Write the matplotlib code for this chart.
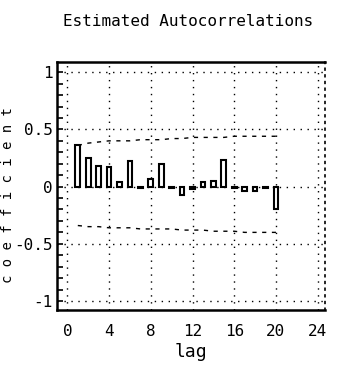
import numpy as np
import matplotlib
matplotlib.use("Agg")
import matplotlib.pyplot as plt
from matplotlib.ticker import MultipleLocator

# sample autocorrelations, lags 1..20
lags = list(range(1, 21))
acf = [0.36, 0.25, 0.18, 0.17, 0.04, 0.22, -0.01, 0.07, 0.20, -0.01,
       -0.07, -0.02, 0.04, 0.05, 0.23, -0.01, -0.04, -0.04, -0.01, -0.20]

# approximate confidence band
band_hi = [0.36, 0.38, 0.39, 0.40, 0.40, 0.40, 0.41, 0.41, 0.41, 0.42,
           0.42, 0.43, 0.43, 0.43, 0.43, 0.44, 0.44, 0.44, 0.44, 0.44]
band_lo = [-0.34, -0.35, -0.35, -0.36, -0.36, -0.36, -0.37, -0.37, -0.37, -0.37,
           -0.38, -0.38, -0.38, -0.39, -0.39, -0.39, -0.40, -0.40, -0.40, -0.40]

xticks = [0, 4, 8, 12, 16, 20, 24]
yticks = [-1, -0.5, 0, 0.5, 1]
ytick_labels = ["-1", "-0.5", "0", "0.5", "1"]

plt.rcParams["font.family"] = ["DejaVu Sans Mono"]

fig = plt.figure(figsize=(3.41, 3.82), dpi=100)
ax = fig.add_axes([0.167, 0.188, 0.786, 0.650])

ax.set_xlim(-1, 24.7)
ax.set_ylim(-1.08, 1.09)

# dotted grid
for x in xticks:
    ax.axvline(x, color="k", lw=1.0, ls=(0, (1, 4)), zorder=1)
for y in yticks:
    ax.axhline(y, color="k", lw=1.0, ls=(0, (1, 4)), zorder=1)

ax.bar(lags, acf, width=0.45, facecolor="white", edgecolor="k", lw=1.5, zorder=3)

ax.plot(lags, band_hi, color="k", lw=1.0, ls=(0, (3, 4)), zorder=2)
ax.plot(lags, band_lo, color="k", lw=1.0, ls=(0, (3, 4)), zorder=2)

for side in ["top", "bottom", "left"]:
    ax.spines[side].set_linewidth(1.8)
ax.spines["right"].set_linestyle((0, (1, 3)))
ax.spines["right"].set_linewidth(1.2)

ax.set_xticks(xticks)
ax.set_xticklabels([str(x) for x in xticks], fontsize=11.5)
ax.set_yticks(yticks)
ax.set_yticklabels(ytick_labels, fontsize=11.5)
ax.yaxis.set_minor_locator(MultipleLocator(0.1))
ax.tick_params(axis="y", which="both", direction="in", length=4, width=1.2, pad=3)
ax.tick_params(axis="x", length=0, pad=10)

ax.set_xlabel("lag", fontsize=13, labelpad=3)
fig.text(0.024, 0.49, "c o e f f i c i e n t", rotation=90, fontsize=10,
         ha="center", va="center")
fig.text(0.553, 0.945, "Estimated Autocorrelations", fontsize=11.5,
         ha="center", va="center")

fig.savefig("out.png", dpi=100)
